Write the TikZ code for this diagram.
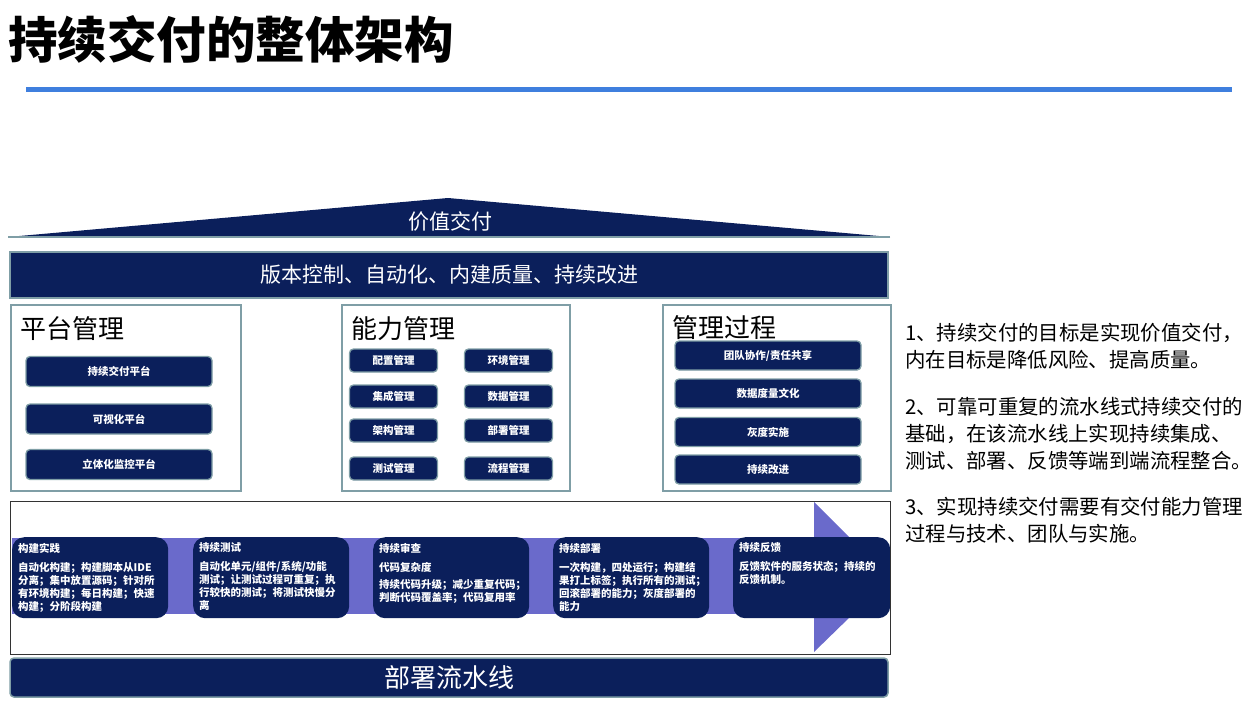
\documentclass[tikz,border=0pt]{standalone}
\usepackage{fontspec}
\setmainfont{Noto Sans CJK SC}
\definecolor{navy}{HTML}{0B1F5B}
\definecolor{rim}{HTML}{7F9EA6}
\definecolor{band}{HTML}{6A6ACB}
\definecolor{lineblue}{HTML}{3F7FDE}
\definecolor{framegrey}{HTML}{333333}
\begin{document}
\begin{tikzpicture}[x=1pt,y=-1pt,
  navybar/.style={fill=navy,draw=rim,line width=1.5pt,inner sep=0,text=white},
  item/.style={fill=navy,draw=rim,line width=1.3pt,rounded corners=4pt,inner sep=0,
    text=white,font=\bfseries\fontsize{10.5}{12}\selectfont},
  pitem/.style={item,minimum width=186pt,minimum height=30pt},
  citem/.style={item,minimum width=88pt,minimum height=23pt},
  ritem/.style={item,minimum width=186pt,minimum height=29pt},
  panel/.style={draw=rim,line width=1.5pt,anchor=north west,inner sep=0,minimum height=186pt},
  heading/.style={anchor=west,inner sep=0,font=\fontsize{26}{30}\selectfont},
  stagebox/.style={fill=navy,rounded corners=12pt,inner sep=0,minimum width=156pt,minimum height=81pt,anchor=north west},
  stagetxt/.style={anchor=north west,inner sep=0,text=white,align=left,font=\bfseries\fontsize{10.5}{13}\selectfont},
  note/.style={anchor=north west,inner sep=0,align=left,font=\fontsize{20.4}{27}\selectfont}]
\useasboundingbox (0,0) rectangle (1257,726);

% title and rule
\node[anchor=west,inner sep=0,font=\bfseries\fontsize{49.5}{55}\selectfont] (title) at (8,39) {持续交付的整体架构};
\coordinate (l1) at (26,89);
\coordinate (l2) at (1232,89);
\draw[lineblue,line width=5pt] (l1) -- (l2);

% roof
\coordinate (rl) at (8,237);
\coordinate (rt) at (448,198);
\coordinate (rr) at (890,237);
\fill[navy] (rl) -- (rt) -- (rr) -- cycle;
\draw[rim,line width=1.5pt] (rl) -- (rr);
\node[text=white,inner sep=0,font=\fontsize{21}{24}\selectfont] (roof) at (450,222) {价值交付};

% principle bar
\node[navybar,minimum width=878pt,minimum height=46pt,font=\fontsize{21}{24}\selectfont] (bar) at (449,275) {版本控制、自动化、内建质量、持续改进};

% panels
\node[panel,minimum width=230pt] (pm) at (10,304) {};
\node[panel,minimum width=228pt] (cm) at (341,304) {};
\node[panel,minimum width=228pt] (mp) at (662,304) {};
\node[heading] (pmh) at (20,329) {平台管理};
\node[heading] (cmh) at (351,329) {能力管理};
\node[heading] (mph) at (672,328) {管理过程};

% platform items
\node[pitem] (p1) at (119,371.5) {持续交付平台};
\node[pitem] (p2) at (119,419) {可视化平台};
\node[pitem] (p3) at (119,464.5) {立体化监控平台};

% capability items
\node[citem] (c1) at (393.5,360.5) {配置管理};
\node[citem] (c2) at (393.5,396.5) {集成管理};
\node[citem] (c3) at (393.5,430.5) {架构管理};
\node[citem] (c4) at (393.5,468.5) {测试管理};
\node[citem] (c5) at (508.5,360.5) {环境管理};
\node[citem] (c6) at (508.5,396.5) {数据管理};
\node[citem] (c7) at (508.5,430.5) {部署管理};
\node[citem] (c8) at (508.5,468.5) {流程管理};

% process items
\node[ritem] (r1) at (768,355.5) {团队协作/责任共享};
\node[ritem] (r2) at (768,393.5) {数据度量文化};
\node[ritem] (r3) at (768,432) {灰度实施};
\node[ritem] (r4) at (768,469.5) {持续改进};

% pipeline arrow
\fill[band] (12,538) rectangle (815,614);
\fill[band] (814,502) -- (890,578) -- (814,652) -- cycle;

\node[stagebox] (s1) at (12,537) {};
\node[stagebox] (s2) at (193,537) {};
\node[stagebox] (s3) at (373,537) {};
\node[stagebox] (s4) at (553,537) {};
\node[stagebox,minimum width=157pt] (s5) at (733,537) {};

\node[stagetxt] (t1) at (18,542.75) {构建实践\\[6pt]自动化构建；构建脚本从IDE\\分离；集中放置源码；针对所\\有环境构建；每日构建；快速\\构建；分阶段构建};
\node[stagetxt] (t2) at (199,542.75) {持续测试\\[6pt]自动化单元/组件/系统/功能\\测试；让测试过程可重复；执\\行较快的测试；将测试快慢分\\离};
\node[stagetxt] (t3) at (379,542.75) {持续审查\\[6pt]代码复杂度\\[4pt]持续代码升级；减少重复代码；\\判断代码覆盖率；代码复用率};
\node[stagetxt] (t4) at (559,542.75) {持续部署\\[6pt]一次构建，四处运行；构建结\\果打上标签；执行所有的测试；\\回滚部署的能力；灰度部署的\\能力};
\node[stagetxt] (t5) at (739,542.75) {持续反馈\\[6pt]反馈软件的服务状态；持续的\\反馈机制。};

\node[draw=framegrey,line width=1pt,anchor=north west,inner sep=0,minimum width=880pt,minimum height=153pt] (pipe) at (10,501) {};

% bottom bar
\node[navybar,rounded corners=4pt,minimum width=878pt,minimum height=39pt,font=\fontsize{26}{30}\selectfont] (deploy) at (449,677.5) {部署流水线};

% notes
\node[note] (n1) at (905,322.8) {1、持续交付的目标是实现价值交付，\\内在目标是降低风险、提高质量。};
\node[note] (n2) at (905,396.8) {2、可靠可重复的流水线式持续交付的\\基础，在该流水线上实现持续集成、\\测试、部署、反馈等端到端流程整合。};
\node[note] (n3) at (905,496.8) {3、实现持续交付需要有交付能力管理\\过程与技术、团队与实施。};
\end{tikzpicture}
\end{document}
